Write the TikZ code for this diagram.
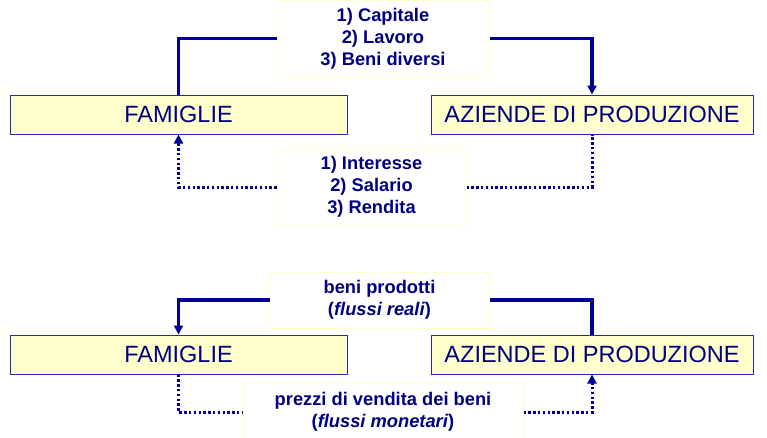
\documentclass[tikz,border=0pt]{standalone}
\usepackage{fontspec}
\setmainfont{Liberation Sans}
\usetikzlibrary{arrows.meta}
\definecolor{navy}{RGB}{0,0,128}
\definecolor{linecol}{RGB}{0,0,150}
\definecolor{boxborder}{RGB}{40,40,170}
\definecolor{boxfill}{RGB}{255,255,204}
\definecolor{labborder}{RGB}{255,255,210}
\begin{document}
\begin{tikzpicture}[x=1pt,y=-1pt,
  agent/.style={draw=boxborder,line width=1pt,fill=boxfill,minimum height=39pt,inner sep=0pt,
    font=\fontsize{23.5}{26}\selectfont,text=navy},
  flowlab/.style={draw=labborder,line width=1pt,fill=white,inner sep=0pt,align=center,
    font=\fontsize{18.3}{22}\selectfont\bfseries,text=navy},
  real/.style={draw=linecol,line width=3.2pt},
  money/.style={draw=linecol,line width=3pt,dash pattern=on 2.4pt off 2.4pt},
  tip/.style={-{Triangle[width=9pt,length=9pt]}}]
\useasboundingbox (0,0) rectangle (767,437);
% top diagram
\node[agent,minimum width=337pt] (fam1) at (178.5,114.5) {FAMIGLIE};
\node[agent,minimum width=322pt] (az1) at (592,114.5) {AZIENDE DI PRODUZIONE};
\node[flowlab,minimum width=212pt,minimum height=77pt] (lab1) at (383,38.5) {1) Capitale\\2) Lavoro\\3) Beni diversi};
\node[flowlab,minimum width=189pt,minimum height=76pt] (lab2) at (371.5,187) {1) Interesse\\2) Salario\\3) Rendita};
\draw[real] (fam1.north) |- (lab1.west);
\draw[real,tip] (lab1.east) -| (az1.north);
\draw[money,tip] (lab2.west) -| (fam1.south);
\draw[money] (lab2.east) -| (az1.south);
% bottom diagram
\node[agent,minimum width=337pt] (fam2) at (178.5,354.5) {FAMIGLIE};
\node[agent,minimum width=322pt] (az2) at (592,354.5) {AZIENDE DI PRODUZIONE};
\node[flowlab,minimum width=219pt,minimum height=56pt] (lab3) at (379.5,300) {beni prodotti\\(\textit{flussi reali})};
\node[flowlab,minimum width=280pt,minimum height=58pt] (lab4) at (383,412) {prezzi di vendita dei beni\\(\textit{flussi monetari})};
\draw[real] (az2.north) |- (lab3.east);
\draw[real,tip] (lab3.west) -| (fam2.north);
\draw[money] (fam2.south) |- (lab4.west);
\draw[money,tip] (lab4.east) -| (az2.south);
\end{tikzpicture}
\end{document}
